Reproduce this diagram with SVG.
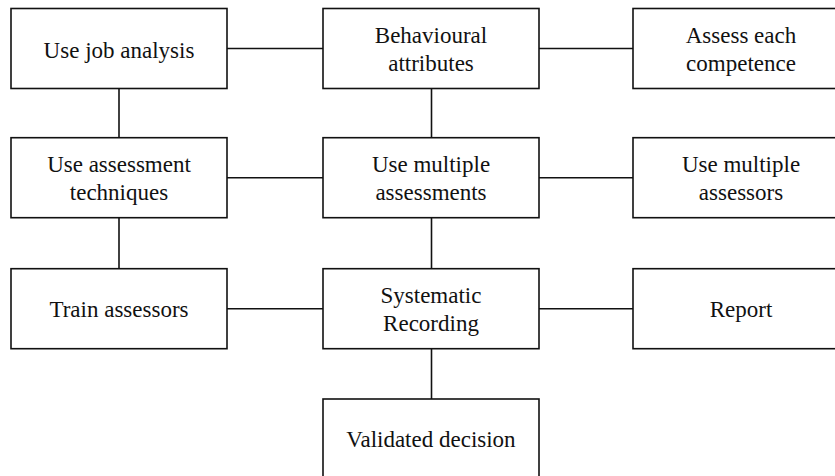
<svg xmlns="http://www.w3.org/2000/svg" width="835" height="476" viewBox="0 0 835 476">
<style>
.box{fill:#fff;stroke:#111;stroke-width:1.6}
.ln{stroke:#111;stroke-width:1.6;fill:none}
.t{font-family:"Liberation Serif","Times New Roman",Times,Tinos,"DejaVu Serif","Noto Serif",Georgia,serif;font-size:23px;fill:#111;text-anchor:middle}
</style>
<rect width="835" height="476" fill="#fff"/>
<g id="connectors">
<line class="ln" x1="227" y1="48.5" x2="323" y2="48.5"/>
<line class="ln" x1="539" y1="48.5" x2="633" y2="48.5"/>
<line class="ln" x1="119" y1="88.5" x2="119" y2="137.7"/>
<line class="ln" x1="431.5" y1="88.5" x2="431.5" y2="137.7"/>
<line class="ln" x1="227" y1="177.7" x2="323" y2="177.7"/>
<line class="ln" x1="539" y1="177.7" x2="633" y2="177.7"/>
<line class="ln" x1="119" y1="217.7" x2="119" y2="268.7"/>
<line class="ln" x1="431.5" y1="217.7" x2="431.5" y2="268.7"/>
<line class="ln" x1="227" y1="308.7" x2="323" y2="308.7"/>
<line class="ln" x1="539" y1="308.7" x2="633" y2="308.7"/>
<line class="ln" x1="431.5" y1="348.7" x2="431.5" y2="399"/>
</g>
<g class="t">
<g id="job-analysis"><rect class="box" x="11" y="8.5" width="216" height="80"/><text x="119" y="57.5">Use job analysis</text></g>
<g id="behavioural"><rect class="box" x="323" y="8.5" width="216" height="80"/><text x="431" y="43.3">Behavioural</text><text x="431" y="71">attributes</text></g>
<g id="assess-each"><rect class="box" x="633" y="8.5" width="216" height="80"/><text x="741" y="43.3">Assess each</text><text x="741" y="71">competence</text></g>
<g id="assessment-techniques"><rect class="box" x="11" y="137.7" width="216" height="80"/><text x="119" y="171.9">Use assessment</text><text x="119" y="199.5">techniques</text></g>
<g id="multiple-assessments"><rect class="box" x="323" y="137.7" width="216" height="80"/><text x="431" y="171.9">Use multiple</text><text x="431" y="199.5">assessments</text></g>
<g id="multiple-assessors"><rect class="box" x="633" y="137.7" width="216" height="80"/><text x="741" y="171.9">Use multiple</text><text x="741" y="199.5">assessors</text></g>
<g id="train"><rect class="box" x="11" y="268.7" width="216" height="80"/><text x="119" y="317.3">Train assessors</text></g>
<g id="systematic"><rect class="box" x="323" y="268.7" width="216" height="80"/><text x="431" y="303.3">Systematic</text><text x="431" y="330.8">Recording</text></g>
<g id="report"><rect class="box" x="633" y="268.7" width="216" height="80"/><text x="741" y="317.3">Report</text></g>
<g id="validated"><rect class="box" x="323" y="399" width="216" height="80"/><text x="431" y="446.7">Validated decision</text></g>
</g>
</svg>
